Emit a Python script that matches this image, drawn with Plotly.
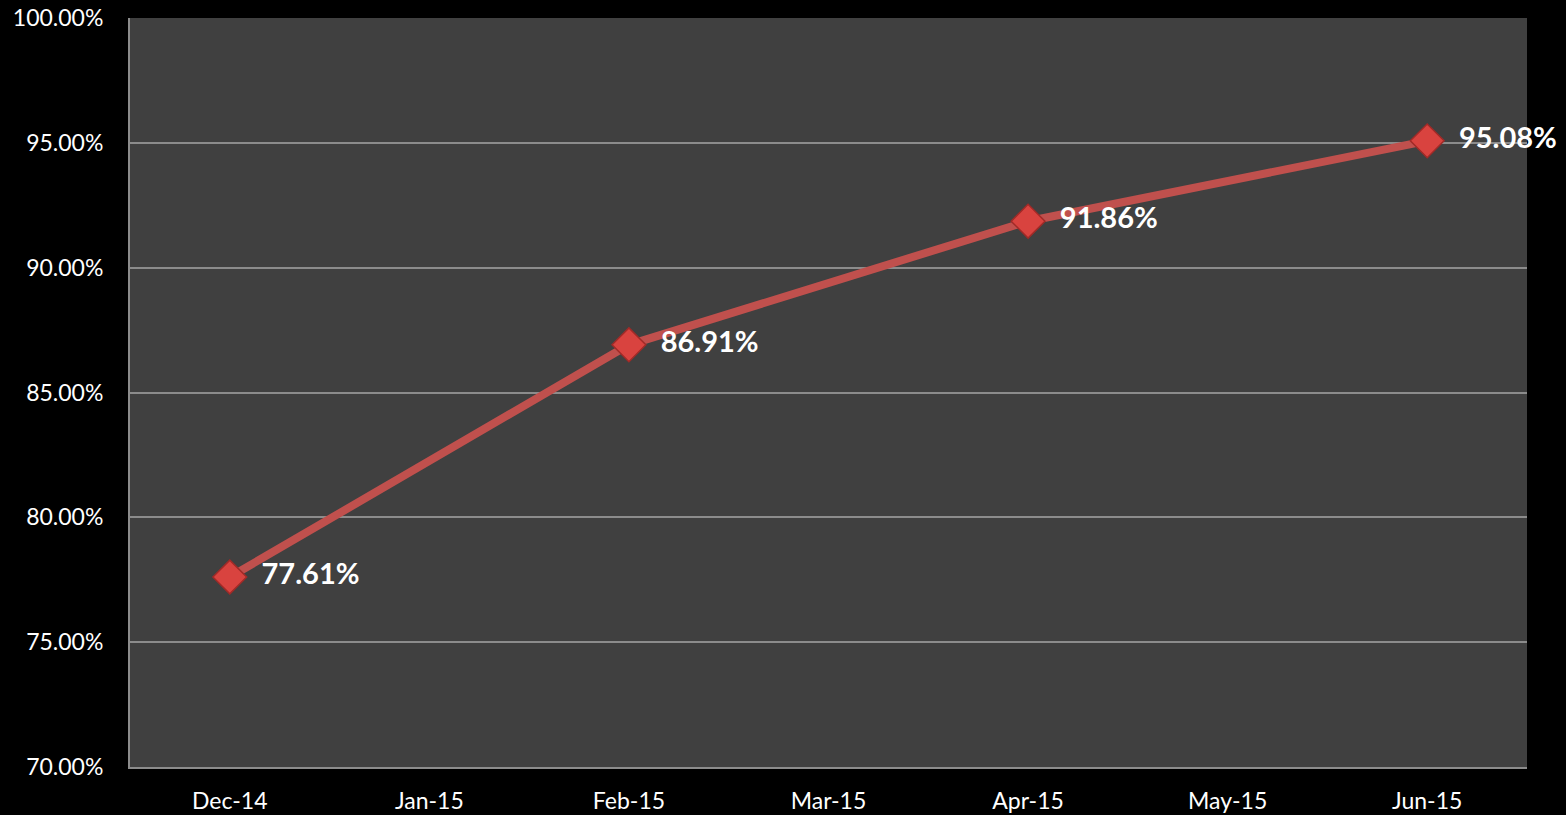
import plotly.graph_objects as go

categories = ["Dec-14", "Jan-15", "Feb-15", "Mar-15", "Apr-15", "May-15", "Jun-15"]
point_months = ["Dec-14", "Feb-15", "Apr-15", "Jun-15"]
point_values = [77.61, 86.91, 91.86, 95.08]
y_ticks = [70, 75, 80, 85, 90, 95, 100]
y_tick_labels = ["70.00%", "75.00%", "80.00%", "85.00%", "90.00%", "95.00%", "100.00%"]

fig = go.Figure()
fig.add_trace(go.Scatter(
    x=point_months,
    y=point_values,
    mode="lines+markers+text",
    line=dict(color="#C0504D", width=8),
    marker=dict(symbol="diamond", size=26, color="#D9433F",
                line=dict(color="#A12A27", width=1.5)),
    text=["\u2002" + f"{v:.2f}%" for v in point_values],
    textposition="middle right",
    textfont=dict(family="Lato, Open Sans, sans-serif", size=29, color="white", weight="bold"),
    cliponaxis=False,
    hoverinfo="skip",
))

fig.update_layout(
    width=1566, height=815,
    paper_bgcolor="black",
    plot_bgcolor="#404040",
    margin=dict(l=130, r=39, t=18, b=48),
    showlegend=False,
    font=dict(family="Lato, Open Sans, sans-serif", color="white", size=23),
)
fig.update_xaxes(
    type="category",
    categoryorder="array",
    categoryarray=categories,
    tickvals=categories,
    range=[-0.5, 6.5],
    showgrid=False,
    showline=True, linecolor="#8C8C8C", linewidth=2,
    ticks="outside", ticklen=12, tickcolor="black",
    tickfont=dict(size=23, color="white"),
    zeroline=False,
    automargin=False,
)
fig.update_yaxes(
    range=[70, 100],
    tickvals=y_ticks,
    ticktext=y_tick_labels,
    showgrid=True, gridcolor="#8C8C8C", gridwidth=1.5,
    showline=True, linecolor="#8C8C8C", linewidth=2,
    ticks="outside", ticklen=20, tickcolor="black",
    tickfont=dict(size=23, color="white"),
    zeroline=False,
    automargin=False,
)

fig.write_html(
    "out.html",
    config={"displayModeBar": False},
    post_script="document.body.style.margin='0';document.body.style.background='black';",
)
